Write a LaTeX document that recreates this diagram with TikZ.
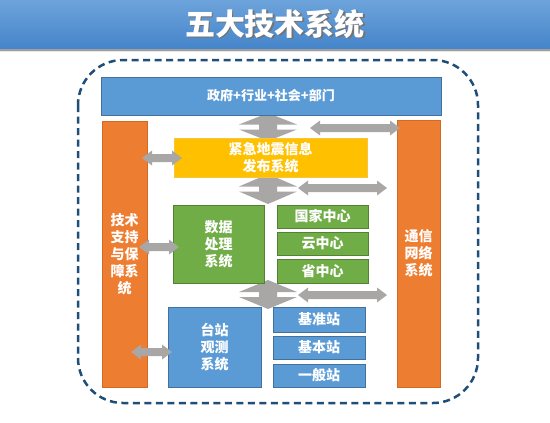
\documentclass[tikz,border=0pt]{standalone}
\usepackage{fontspec}
\newfontfamily\cjk{Noto Sans CJK SC}
\definecolor{barTop}{HTML}{6DA3DB}
\definecolor{barBot}{HTML}{4585CA}
\definecolor{dashBlue}{HTML}{1F4E79}
\definecolor{bluF}{HTML}{5B9BD5}
\definecolor{bluD}{HTML}{41719C}
\definecolor{oraF}{HTML}{ED7D31}
\definecolor{oraD}{HTML}{D46A22}
\definecolor{yelF}{HTML}{FFC000}
\definecolor{yelD}{HTML}{F5C542}
\definecolor{grnF}{HTML}{70AD47}
\definecolor{grnD}{HTML}{548235}
\definecolor{arrG}{HTML}{A9A6A6}
\newcommand\hdarr[3]{\fill[arrG] ({#1},{#3}) -- ({#1+10},{#3-7.5}) -- ({#1+10},{#3-4}) -- ({#2-10},{#3-4}) -- ({#2-10},{#3-7.5}) -- ({#2},{#3}) -- ({#2-10},{#3+7.5}) -- ({#2-10},{#3+4}) -- ({#1+10},{#3+4}) -- ({#1+10},{#3+7.5}) -- cycle;}
\newcommand\vdarr[3]{\fill[arrG] ({#1},{#2}) -- ({#1+29},{(#2+#3)/2-2.5}) -- ({#1+9},{(#2+#3)/2-2.5}) -- ({#1+9},{(#2+#3)/2+2.5}) -- ({#1+29},{(#2+#3)/2+2.5}) -- ({#1},{#3}) -- ({#1-29},{(#2+#3)/2+2.5}) -- ({#1-9},{(#2+#3)/2+2.5}) -- ({#1-9},{(#2+#3)/2-2.5}) -- ({#1-29},{(#2+#3)/2-2.5}) -- cycle;}
\begin{document}
\begin{tikzpicture}[x=1pt,y=-1pt,
  box/.style={draw, line width=0.8pt, inner sep=0pt, text=white, align=center,
    font=\cjk\bfseries\fontsize{14}{17}\selectfont},
  bluebox/.style={box, fill=bluF, draw=bluD},
  orabox/.style={box, fill=oraF, draw=oraD},
  grnbox/.style={box, fill=grnF, draw=grnD},
  yelbox/.style={box, fill=yelF, draw=yelD}]
\useasboundingbox (0,0) rectangle (550,423);
\fill[white] (0,0) rectangle (550,423);
% title bar
\shade[top color=barTop, bottom color=barBot] (0,0) rectangle (550,48.5);
\fill[black!38] (0,48.5) rectangle (550,50.5);
\fill[black!10] (0,50.5) rectangle (550,52);
\node[text=black!55, font=\cjk\bfseries\fontsize{30}{34}\selectfont] at (276.5,25.5) {五大技术系统};
\node[text=white, font=\cjk\bfseries\fontsize{30}{34}\selectfont] (title) at (275,24) {五大技术系统};
% dashed frame
\draw[dashBlue, line width=2.5pt, dash pattern=on 7pt off 4.5pt, rounded corners=45pt] (78,60) rectangle (478,403);
% vertical arrows (behind boxes)
\vdarr{268}{113}{141}
\vdarr{268}{174}{204}
\vdarr{268}{280}{309}
% boxes
\node[bluebox, minimum width=340, minimum height=38, font=\cjk\bfseries\fontsize{13}{16}\selectfont] (gov) at (271,96) {政府+行业+社会+部门};
\node[orabox, minimum width=45, minimum height=266] (tech) at (124.5,254) {技术\\支持\\与保\\障系\\统};
\node[orabox, minimum width=43, minimum height=267] (comm) at (418.5,253.5) {通信\\网络\\系统};
\node[yelbox, minimum width=193, minimum height=39] (eew) at (270.5,157.5) {紧急地震信息\\发布系统};
\node[grnbox, minimum width=91, minimum height=78] (data) at (218.5,244) {数据\\处理\\系统};
\node[grnbox, minimum width=91, minimum height=23] (gj) at (322.5,216.5) {国家中心};
\node[grnbox, minimum width=91, minimum height=23] (yun) at (322.5,243.5) {云中心};
\node[grnbox, minimum width=91, minimum height=24] (sheng) at (322.5,271) {省中心};
\node[bluebox, minimum width=93, minimum height=80] (tai) at (214.5,347) {台站\\观测\\系统};
\node[bluebox, minimum width=92, minimum height=25] (jz) at (319,319.5) {基准站};
\node[bluebox, minimum width=92, minimum height=23] (jb) at (319,347.5) {基本站};
\node[bluebox, minimum width=92, minimum height=23] (yb) at (319,375.5) {一般站};
% horizontal arrows
\hdarr{310}{400}{128}
\hdarr{142}{182}{158}
\hdarr{298}{387}{188}
\hdarr{139}{179}{247}
\hdarr{298}{387}{295}
\hdarr{131}{172}{352}
\end{tikzpicture}
\end{document}
